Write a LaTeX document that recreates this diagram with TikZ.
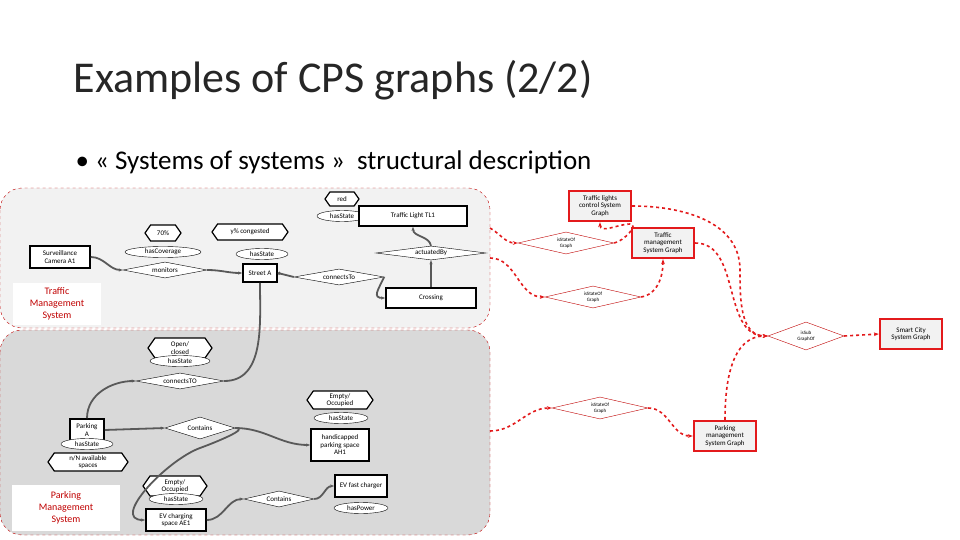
\documentclass[tikz,border=0pt]{standalone}
\usepackage{fontspec}
\setmainfont{Carlito}
\usetikzlibrary{shapes.geometric,shapes.symbols,arrows.meta}
\definecolor{dred}{HTML}{C00000}
\definecolor{bred}{HTML}{E31A1C}
\definecolor{lg}{HTML}{F2F2F2}
\definecolor{mg}{HTML}{D9D9D9}
\definecolor{lk}{HTML}{595959}
\tikzset{
 txt/.style={font=\fontsize{7}{7.5}\selectfont,align=center,inner sep=0pt},
 ent/.style={txt,draw,line width=1.6pt,fill=white,minimum width=#1},
 hexa/.style={txt,draw,line width=1.2pt,fill=white,signal,signal to=west and east,signal pointer angle=110,minimum height=14pt,minimum width=#1},
 ell/.style={txt,draw,ellipse,fill=white,minimum height=11pt,minimum width=#1},
 rel/.style={txt,draw,diamond,aspect=5,fill=white,minimum width=#1,minimum height=16pt},
 rrel/.style={rel=#1,draw=dred,font=\fontsize{5}{5.5}\selectfont},
 gbox/.style={txt,draw=bred,line width=2.4pt,fill=lg,minimum width=62pt,minimum height=30pt},
 gl/.style={draw=lk,line width=1.8pt,-{Stealth[length=4pt]}},
 rl/.style={draw=bred,line width=1.6pt,dashed,-{Stealth[length=5pt]}},
 grp/.style={draw=dred,dashed,rounded corners=22pt},
 lab/.style={fill=white,text=dred,font=\fontsize{10}{12}\selectfont,align=center,inner sep=0pt}
}
\begin{document}
\begin{tikzpicture}[x=1pt,y=-1pt]
\useasboundingbox[fill=white] (0,0) rectangle (960,540);
\node[anchor=west,font=\fontsize{44}{46}\selectfont,text=black!85] (title) at (70,80) {Examples of CPS graphs (2/2)};
\node[anchor=west,font=\fontsize{27}{30}\selectfont] (sub) at (72,162) {• « Systems of systems »\ \ structural description};
\path[grp,fill=lg] (0,188) rectangle (490,328);
\path[grp,fill=mg] (0,330) rectangle (490,535);
\node[lab,minimum width=88pt,minimum height=42pt] (tms) at (57,304) {Traffic\\Management\\System};
\node[lab,minimum width=108pt,minimum height=46pt] (pms) at (66,508) {Parking\\Management\\System};
% top
\node[hexa=34pt] (red) at (342,199) {red};
\node[ell=50pt] (hs1) at (342,216) {hasState};
\node[ent=108pt,minimum height=20pt] (tl) at (413,216) {Traffic Light TL1};
\node[hexa=36pt,minimum height=16pt] (p70) at (163,233) {70\%};
\node[hexa=76pt,minimum height=16pt] (yc) at (250,232) {y\% congested};
\node[ell=76pt] (hc) at (163,252) {hasCoverage};
\node[ell=52pt] (hs2) at (262,254) {hasState};
\node[ent=60pt,minimum height=22pt] (cam) at (60,257) {Surveillance\\Camera A1};
\node[rel=84pt] (mon) at (165,270) {monitors};
\node[ent=34pt,minimum height=18pt] (st) at (260,273) {Street A};
\node[rel=90pt] (ct) at (339,277) {connectsTo};
\node[rel=110pt,minimum height=14pt] (ab) at (431,253) {actuatedBy};
\node[ent=90pt,minimum height=20pt] (cr) at (431,298) {Crossing};
% bottom
\node[hexa=64pt,minimum height=20pt] (oc) at (180,348) {Open/\\closed};
\node[ell=60pt] (hs3) at (180,361) {hasState};
\node[rel=88pt] (ct2) at (180,381) {connectsTO};
\node[ent=34pt,minimum height=22pt] (pa) at (87,430) {Parking\\A};
\node[ell=52pt] (hs4) at (87,444) {hasState};
\node[hexa=80pt,minimum height=18pt] (na) at (88,462) {n/N available\\spaces};
\node[rel=70pt,minimum height=22pt] (co1) at (200,428) {Contains};
\node[hexa=66pt,minimum height=18pt] (eo1) at (340,400) {Empty/\\Occupied};
\node[ell=54pt] (hs5) at (341,418) {hasState};
\node[ent=58pt,minimum height=32pt] (hp) at (340,445) {handicapped\\parking space\\AH1};
\node[hexa=64pt,minimum height=20pt] (eo2) at (175,486) {Empty/\\Occupied};
\node[ell=54pt] (hs6) at (176,499) {hasState};
\node[ent=60pt,minimum height=22pt] (ev) at (176,520) {EV charging\\space AE1};
\node[rel=70pt] (co2) at (279,499) {Contains};
\node[ent=52pt,minimum height=22pt] (fc) at (361,486) {EV fast charger};
\node[ell=54pt] (hp2) at (361,508) {hasPower};
% right
\node[gbox] (tlg) at (600,206) {Traffic lights\\control System\\Graph};
\node[rrel=96pt,minimum height=22pt] (d1) at (566,243) {isStateOf\\Graph};
\node[gbox] (tmg) at (663,243) {Traffic\\management\\System Graph};
\node[rrel=96pt,minimum height=22pt] (d2) at (593,297) {isStateOf\\Graph};
\node[rrel=76pt,minimum height=28pt] (d4) at (806,336) {isSub\\GraphOf};
\node[gbox] (scg) at (911,334) {Smart City\\System Graph};
\node[rrel=96pt,minimum height=22pt] (d3) at (600,408) {isStateOf\\Graph};
\node[gbox] (pmg) at (725,436) {Parking\\management\\System Graph};
\coordinate (o1) at (490,228);
\coordinate (o2) at (490,258);
\coordinate (o3) at (490,431);
% gray connectors
\draw[gl] (cam.east) to[out=0,in=180] (mon.west);
\draw[gl] (mon.east) to[out=0,in=180] (st.west);
\draw[gl,{Circle[length=3pt]}-] (st.east) -- (ct.west);
\draw[gl] (ct.east) .. controls (378,290) and (372,298) .. (cr.west);
\draw[gl] (cr.north) -- (ab.south);
\draw[gl] (ab.north) to[out=100,in=-90] (tl.south);
\draw[gl,-] (st.south) to[out=-90,in=0] (ct2.east);
\draw[gl] (pa.north) to[out=90,in=180] (ct2.west);
\draw[gl] (pa.east) -- (co1.west);
\draw[gl] (co1.east) to[out=0,in=180] (hp.west);
\draw[gl] (co1.east) to[out=0,in=20] (200,448) to[out=200,in=180] (ev.west);
\draw[gl] (ev.east) to[out=0,in=180] (co2.west);
\draw[gl] (co2.east) to[out=0,in=180] (fc.west);
% red connectors
\draw[rl] (o1) to[out=-30,in=180] (d1.west);
\draw[rl] (d1.east) to[out=10,in=0] (630,224) to[out=180,in=-90] (tlg.south);
\draw[rl] (o2) to[out=0,in=180] (d2.west);
\draw[rl] (d2.east) to[out=10,in=-90] (tmg.south);
\draw[rl] (tlg.east) to[out=0,in=90] (740,270) to[out=-90,in=180] (d4.west);
\draw[rl] (tmg.east) to[out=0,in=180] (d4.west);
\draw[rl] (pmg.north) to[out=90,in=180] (d4.west);
\draw[rl] (d4.east) -- (scg.west);
\draw[rl] (o3) to[out=0,in=180] (d3.west);
\draw[rl] (d3.east) to[out=0,in=180] (pmg.west);
\end{tikzpicture}
\end{document}
